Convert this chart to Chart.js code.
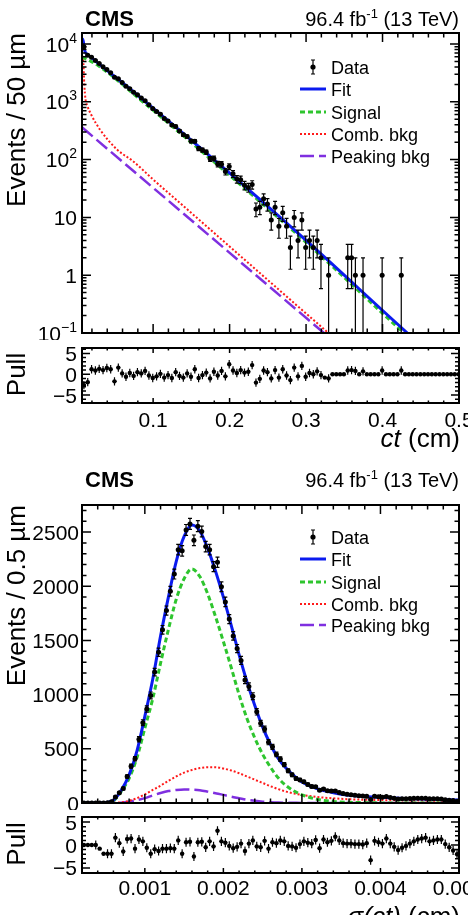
<!DOCTYPE html>
<html>
<head>
<meta charset="utf-8">
<title>ct and sigma(ct) fits</title>
<script src="https://cdn.jsdelivr.net/npm/chart.js@4.4.1/dist/chart.umd.min.js"></script>
<style>
  html, body { margin: 0; padding: 0; background: #fff; }
  body { width: 468px; height: 915px; position: relative; overflow: hidden; }
  canvas { position: absolute; left: 0; }
</style>
</head>
<body>
<canvas id="ctMain" width="468" height="340" style="top:0px"></canvas>
<canvas id="ctPull" width="468" height="115" style="top:340px"></canvas>
<canvas id="sigMain" width="468" height="355" style="top:455px"></canvas>
<canvas id="sigPull" width="468" height="105" style="top:810px"></canvas>
<script>
const FONT = '"Liberation Sans", Arial, Helvetica, sans-serif';

// ---- ct distribution: 50 um bins starting at 0.007 cm ----
const ctRange = [0.007, 0.5];
const ctBinWidth = 0.005;
const ctCounts = [
  9000, 6370, 5880, 5170, 4597, 4043, 3605, 3172, 2653, 2500,
  2152, 1866, 1683, 1461, 1321, 1158, 1044, 886, 762, 679,
  610, 516, 467, 396, 374, 313, 268, 250, 209, 208,
  156, 146, 135, 103, 105, 84, 83, 62, 76, 57,
  46, 45, 36, 33, 37, 14, 15, 21, 17, 9,
  15, 7, 12, 7, 3, 10, 4, 9, 3, 4,
  3, 4, 2, 0, 1, 0, 0, 0, 0, 2,
  2, 1, 0, 1, 0, 0, 0, 0, 1, 0,
  0, 0, 0, 1, 0, 0, 0, 0, 0, 0,
  0, 0, 0, 0, 0, 0, 0, 0, 0
];
const ctPulls = [
  -2.6, -1.9, 1.2, 0.9, 1.3, 1.0, 1.5, 1.2, -1.7, 1.6,
  0.2, -0.6, 0.3, -0.4, 0.5, 0.2, 0.8, -0.3, -0.9, -0.5,
  0.1, -0.8, -0.2, -0.9, 0.5, -0.4, -0.8, 0.2, -0.6, 1.2,
  -0.9, -0.2, 0.4, -1.0, 0.6, -0.3, 0.8, -0.5, 2.4, 0.9,
  0.3, 1.0, 0.4, 0.6, 2.2, -2.0, -1.1, 0.9, 0.5, -1.0,
  1.0, -0.8, 1.2, -0.3, -1.4, 1.6, -0.5, 2.0, -0.6, 0.3,
  0.0, 0.7, -0.2, -0.8, -1.0, 0, 0, 0, 0, 0.9,
  1.0, 0.8, 0, 0.7, 0, 0, 0, 0, 0.9, 0,
  0, 0, 0, 0.9, 0, 0, 0, 0, 0, 0,
  0, 0, 0, 0, 0, 0, 0, 0, 0
];
// fit components
const ctFitX = [0.007, 0.0087, 0.0100, 0.0115, 0.0140, 0.0197, 0.028, 0.089, 0.1675, 0.3, 0.4324, 0.5];
const ctFitY = [12600, 11100, 8200, 7170, 6590, 5760, 4680, 1030, 137, 4.0, 0.1, 0.0162];
const ctSigX = [0.007, 0.0149, 0.028, 0.089, 0.1675, 0.3, 0.428, 0.5];
const ctSigY = [6000, 5300, 4250, 940, 125, 3.7, 0.1, 0.0144];
const ctCombX = [0.007, 0.0087, 0.0100, 0.0115, 0.0140, 0.0197, 0.0305, 0.0524, 0.0741, 0.1002, 0.135, 0.3293, 0.5];
const ctCombY = [6310, 4790, 1995, 1122, 851, 575, 331, 151, 93, 45, 17.8, 0.1, 0.00112];
const ctPeakX = [0.007, 0.5];
const ctPeakY = [362, 0.00103];
const ctXTicks = [0.1, 0.2, 0.3, 0.4, 0.5];
const ctYDecades = [-1, 0, 1, 2, 3, 4];

// ---- sigma(ct) distribution: 0.5 um bins starting at 0.0002 cm ----
const sigRange = [0.0002, 0.005];
const sigBinWidth = 0.00005;
const sigCounts = [
  0, 0, 0, 1, 0, 0, 3, 12, 56, 94,
  133, 245, 340, 408, 588, 741, 867, 993, 1208, 1391,
  1598, 1776, 1954, 2113, 2338, 2327, 2520, 2575, 2424, 2555,
  2505, 2366, 2338, 2181, 2221, 1995, 1856, 1697, 1542, 1425,
  1316, 1135, 1075, 986, 841, 736, 683, 561, 518, 448,
  405, 355, 297, 260, 226, 213, 196, 171, 152, 149,
  117, 129, 114, 110, 111, 97, 87, 81, 77, 72,
  68, 64, 63, 33, 63, 58, 54, 60, 50, 43,
  37, 39, 40, 42, 43, 44, 44, 44, 39, 39,
  39, 38, 31, 26, 22, 17
];
const sigPulls = [
  0, 0, 0, 0, -0.8, -1.9, -1.9, -1.9, 1.6, 0.4,
  -1.4, 1.3, 1.4, -0.8, 1.2, 0.8, -0.6, -1.9, -0.9, -1.3,
  -0.8, -0.8, -0.7, -0.8, 1.0, -1.9, 0.6, 0.7, -2.5, 0.6,
  0.7, -0.5, 0.8, -0.3, 3.1, 0.8, 0.5, -0.2, -0.7, -0.4,
  0.3, -1.3, 0.3, 1.0, -0.3, -0.5, 0.9, -0.8, 0.6, 0.4,
  1.0, 0.8, -0.2, -0.3, -0.6, 0.2, 0.8, 0.5, 0.3, 1.1,
  -0.7, 1.2, 0.6, 0.9, 1.8, 1.0, 0.4, 0.3, 0.3, 0.2,
  0.2, 0.1, 0.4, -3.3, 0.9, 0.6, 0.3, 1.4, 0.3, -0.4,
  -1.1, -0.6, -0.2, 0.3, 0.8, 1.2, 1.4, 1.6, 0.8, 1.0,
  1.2, 1.2, 0.2, -0.5, -1.2, -2.0
];
const sigCurveX = [0.0002, 0.0003, 0.0004, 0.0005, 0.0006, 0.0007, 0.0008, 0.0009, 0.0010, 0.0011,
  0.0012, 0.0013, 0.0014, 0.0015, 0.0016, 0.0017, 0.0018, 0.0019, 0.0020, 0.0021,
  0.0022, 0.0023, 0.0024, 0.0025, 0.0026, 0.0027, 0.0028, 0.0029, 0.0030, 0.0032,
  0.0034, 0.0036, 0.0038, 0.0040, 0.0043, 0.0046, 0.0050];
const sigFitY = [0, 0, 1, 4, 25, 117, 260, 480, 800, 1140,
  1540, 1900, 2230, 2460, 2565, 2510, 2350, 2140, 1900, 1640,
  1370, 1120, 900, 700, 540, 410, 320, 250, 195, 130,
  95, 72, 60, 52, 42, 35, 27];
const sigSignalY = [0, 0, 0, 3, 20, 108, 228, 420, 690, 960,
  1290, 1600, 1880, 2070, 2160, 2090, 1930, 1720, 1490, 1250,
  1000, 780, 600, 450, 330, 230, 160, 110, 75, 33,
  14, 6, 3, 1, 0, 0, 0];
const sigCombY = [0, 0, 0, 0, 2, 6, 20, 45, 80, 120,
  160, 205, 245, 280, 305, 322, 330, 330, 318, 300,
  275, 245, 215, 185, 155, 128, 105, 88, 74, 55,
  43, 35, 30, 27, 24, 22, 20];
const sigPeakY = [0, 0, 0, 0, 0, 3, 12, 27, 45, 70,
  92, 110, 120, 125, 123, 118, 105, 90, 75, 58,
  44, 30, 20, 12, 7, 4, 3, 2, 1, 1,
  0, 0, 0, 0, 0, 0, 0];
const sigXTicks = [0.001, 0.002, 0.003, 0.004, 0.005];
const sigYTicks = [0, 500, 1000, 1500, 2000, 2500];
const pullTicks = [-5, 0, 5];

const STYLE = {
  fit:    { color: '#0b1bef', width: 3,   dash: [] },
  signal: { color: '#2ec52e', width: 3,   dash: [5, 3] },
  comb:   { color: '#ff1a1a', width: 2,   dash: [2, 2] },
  peak:   { color: '#7f2fe0', width: 2.5, dash: [14, 5] }
};

const binCentres = (lo, w, n) => Array.from({ length: n }, (_, i) => lo + (i + 0.5) * w);

function curve(label, xs, ys, st) {
  return {
    label, data: xs.map((x, i) => ({ x, y: ys[i] })),
    borderColor: st.color, borderWidth: st.width, borderDash: st.dash,
    pointRadius: 0, fill: false, cubicInterpolationMode: 'monotone', clip: 0
  };
}
function dots(label, xs, ys, r) {
  return {
    label, data: xs.map((x, i) => ({ x, y: ys[i] })),
    showLine: false, pointRadius: r, pointHoverRadius: r,
    pointBackgroundColor: '#000', pointBorderWidth: 0, borderColor: '#000'
  };
}

function multiples(lo, hi, step) {
  const out = [];
  for (let k = Math.ceil(lo / step - 1e-6); k * step <= hi * (1 + 1e-9); k++) out.push(+(k * step).toPrecision(10));
  return out;
}

function drawRich(ctx, segs, x, y, align) {
  let w = 0;
  segs.forEach(s => { ctx.font = (s.style || '') + ' ' + s.size + 'px ' + FONT; w += ctx.measureText(s.t).width; });
  let cx = align === 'right' ? x - w : align === 'center' ? x - w / 2 : x;
  ctx.textAlign = 'left';
  ctx.textBaseline = 'alphabetic';
  segs.forEach(s => {
    ctx.font = (s.style || '') + ' ' + s.size + 'px ' + FONT;
    ctx.fillText(s.t, cx, y - (s.rise || 0));
    cx += ctx.measureText(s.t).width;
  });
}

function marks(ctx, a, scale, axis, vals, len) {
  vals.forEach(v => {
    const p = scale.getPixelForValue(v);
    if (axis === 'x') {
      if (p < a.left + 1 || p > a.right - 1) return;
      ctx.moveTo(p, a.bottom); ctx.lineTo(p, a.bottom - len);
      ctx.moveTo(p, a.top); ctx.lineTo(p, a.top + len);
    } else {
      if (p < a.top + 1 || p > a.bottom - 1) return;
      ctx.moveTo(a.left, p); ctx.lineTo(a.left + len, p);
      ctx.moveTo(a.right, p); ctx.lineTo(a.right - len, p);
    }
  });
}

const minus = v => (v < 0 ? '\u2212' + Math.abs(v) : String(v));

// ROOT-like frame: inward ticks on all sides, labels, titles, header and legend
function rootStyle(cfg) {
  return {
    id: 'rootStyle',
    afterDraw(chart) {
      const { ctx, chartArea: a } = chart;
      const sx = chart.scales.x, sy = chart.scales.y;
      ctx.save();
      ctx.fillStyle = '#000';
      ctx.strokeStyle = '#000';

      ctx.lineWidth = 1.5;
      ctx.beginPath();
      marks(ctx, a, sx, 'x', multiples(sx.min, sx.max, cfg.xMinor), cfg.xLen[1]);
      marks(ctx, a, sx, 'x', cfg.xTicks, cfg.xLen[0]);
      if (cfg.yLog) {
        const minors = [];
        cfg.yTicks.forEach(k => { for (let m = 2; m <= 9; m++) minors.push(m * Math.pow(10, k)); });
        marks(ctx, a, sy, 'y', minors, cfg.yLen[1]);
        marks(ctx, a, sy, 'y', cfg.yTicks.map(k => Math.pow(10, k)), cfg.yLen[0]);
      } else {
        marks(ctx, a, sy, 'y', multiples(sy.min, sy.max, cfg.yMinor), cfg.yLen[1]);
        marks(ctx, a, sy, 'y', cfg.yTicks, cfg.yLen[0]);
      }
      ctx.stroke();

      ctx.lineWidth = 2;
      ctx.strokeRect(a.left, a.top, a.right - a.left, a.bottom - a.top);

      // y tick labels
      cfg.yTicks.forEach(v => {
        if (cfg.yLog) {
          const p = sy.getPixelForValue(Math.pow(10, v)) + 7.5;
          const segs = v === 0 ? [{ t: '1', size: 21 }] : v === 1 ? [{ t: '10', size: 21 }]
            : [{ t: '10', size: 21 }, { t: minus(v), size: 14, rise: 9 }];
          drawRich(ctx, segs, cfg.yLabelX, p, 'right');
        } else {
          drawRich(ctx, [{ t: minus(v), size: 21 }], cfg.yLabelX, sy.getPixelForValue(v) + 7.5, 'right');
        }
      });
      // x tick labels
      if (cfg.xLabelY) {
        cfg.xTicks.forEach(v => {
          drawRich(ctx, [{ t: v.toFixed(cfg.xDigits), size: 21 }], sx.getPixelForValue(v), cfg.xLabelY, 'center');
        });
      }
      if (cfg.xTitle) drawRich(ctx, cfg.xTitle, a.right + 1, cfg.xTitleY, 'right');

      // rotated y title
      ctx.save();
      const ty = cfg.yTitleTop ? a.top : (a.top + a.bottom) / 2 - 1;
      ctx.translate(25, ty);
      ctx.rotate(-Math.PI / 2);
      drawRich(ctx, [{ t: cfg.yTitle, size: 26 }], 0, 0, cfg.yTitleTop ? 'right' : 'center');
      ctx.restore();

      if (cfg.headerY) {
        drawRich(ctx, [{ t: 'CMS', size: 22, style: 'bold' }], 85, cfg.headerY, 'left');
        drawRich(ctx, [{ t: '96.4 fb', size: 20 }, { t: '-1', size: 13, rise: 8 }, { t: ' (13 TeV)', size: 20 }],
          a.right, cfg.headerY, 'right');
      }

      if (cfg.legendRows) {
        chart.data.datasets.forEach((ds, i) => {
          const y = cfg.legendRows[i];
          if (i === 0) {
            ctx.lineWidth = 1.2;
            ctx.beginPath();
            ctx.moveTo(313, y - 7); ctx.lineTo(313, y + 7);
            ctx.moveTo(311, y - 7); ctx.lineTo(315, y - 7);
            ctx.moveTo(311, y + 7); ctx.lineTo(315, y + 7);
            ctx.stroke();
            ctx.beginPath(); ctx.arc(313, y, 2.6, 0, 2 * Math.PI); ctx.fill();
          } else {
            ctx.save();
            ctx.strokeStyle = ds.borderColor; ctx.lineWidth = ds.borderWidth;
            ctx.setLineDash(ds.borderDash);
            ctx.beginPath(); ctx.moveTo(300, y); ctx.lineTo(326, y); ctx.stroke();
            ctx.restore();
          }
          drawRich(ctx, [{ t: ds.label, size: 18 }], 331, y + 6.5, 'left');
        });
      }
      ctx.restore();
    }
  };
}

// error bars (x: half bin, y: asymmetric lists) drawn under the markers
function errorBars(xs, ys, xHalf, yErr, cap) {
  return {
    id: 'errorBars',
    beforeDatasetDraw(chart, args) {
      if (args.index !== 0) return;
      const { ctx, chartArea: a } = chart;
      const sx = chart.scales.x, sy = chart.scales.y;
      const isLog = sy.type === 'logarithmic';
      ctx.save();
      ctx.beginPath();
      ctx.rect(a.left, a.top, a.right - a.left, a.bottom - a.top);
      ctx.clip();
      ctx.strokeStyle = '#000';
      ctx.lineWidth = 1.2;
      ctx.beginPath();
      xs.forEach((x, i) => {
        const y = ys[i];
        if (y === null) return;
        const px = sx.getPixelForValue(x), py = sy.getPixelForValue(y);
        ctx.moveTo(sx.getPixelForValue(x - xHalf), py);
        ctx.lineTo(sx.getPixelForValue(x + xHalf), py);
        const e = yErr[i];
        if (e > 0) {
          const lo = y - e;
          const pLo = (isLog && lo <= 0) ? a.bottom + 5 : sy.getPixelForValue(lo);
          const pHi = sy.getPixelForValue(y + e);
          ctx.moveTo(px, pLo); ctx.lineTo(px, pHi);
          if (cap) {
            ctx.moveTo(px - cap, pHi); ctx.lineTo(px + cap, pHi);
            if (!(isLog && lo <= 0)) { ctx.moveTo(px - cap, pLo); ctx.lineTo(px + cap, pLo); }
          }
        }
      });
      ctx.stroke();
      ctx.restore();
    }
  };
}

function makeChart(id, datasets, xr, yScale, padding, plugins) {
  return new Chart(document.getElementById(id), {
    type: 'line',
    data: { datasets },
    options: {
      responsive: false, animation: false, devicePixelRatio: 1, events: [],
      layout: { padding },
      scales: {
        x: { type: 'linear', min: xr[0], max: xr[1], display: false },
        y: Object.assign({ display: false }, yScale)
      },
      plugins: { legend: { display: false }, tooltip: { enabled: false } }
    },
    plugins
  });
}

// ---- top: ct ----
const ctX = binCentres(ctRange[0], ctBinWidth, ctCounts.length);
const ctY = ctCounts.map(v => (v > 0 ? v : null));
makeChart('ctMain', [
  dots('Data', ctX, ctY, 2.5),
  curve('Fit', ctFitX, ctFitY, STYLE.fit),
  curve('Signal', ctSigX, ctSigY, STYLE.signal),
  curve('Comb. bkg', ctCombX, ctCombY, STYLE.comb),
  curve('Peaking bkg', ctPeakX, ctPeakY, STYLE.peak)
], ctRange, { type: 'logarithmic', min: 0.1, max: 15500 },
  { left: 82, right: 9, top: 33, bottom: 7 },
  [errorBars(ctX, ctY, ctBinWidth / 2, ctCounts.map(Math.sqrt), 2),
   rootStyle({ xTicks: ctXTicks, xMinor: 0.02, xLen: [9, 4.5], yLog: true, yTicks: ctYDecades, yLen: [9, 4.5],
     yLabelX: 77, yTitle: 'Events / 50 \u00b5m', yTitleTop: true, headerY: 26,
     legendRows: [67, 89, 112, 134, 156] })]);

makeChart('ctPull', [dots('Pull', ctX, ctPulls, 2.2)], ctRange, { type: 'linear', min: -6.9, max: 6.3 },
  { left: 82, right: 9, top: 8, bottom: 52 },
  [errorBars(ctX, ctPulls, ctBinWidth / 2, ctCounts.map(v => (v > 0 ? 1 : 0)), 0),
   rootStyle({ xTicks: ctXTicks, xMinor: 0.02, xLen: [5, 2.5], xLabelY: 87, xDigits: 1,
     xTitle: [{ t: 'ct', size: 26, style: 'italic' }, { t: ' (cm)', size: 26 }], xTitleY: 107,
     yTicks: pullTicks, yMinor: 1, yLen: [8, 4], yLabelX: 77, yTitle: 'Pull' })]);

// ---- bottom: sigma(ct) ----
const sigX = binCentres(sigRange[0], sigBinWidth, sigCounts.length);
makeChart('sigMain', [
  dots('Data', sigX, sigCounts, 2.5),
  curve('Fit', sigCurveX, sigFitY, STYLE.fit),
  curve('Signal', sigCurveX, sigSignalY, STYLE.signal),
  curve('Comb. bkg', sigCurveX, sigCombY, STYLE.comb),
  curve('Peaking bkg', sigCurveX, sigPeakY, STYLE.peak)
], sigRange, { type: 'linear', min: 0, max: 2750 },
  { left: 82, right: 9, top: 50, bottom: 7 },
  [errorBars(sigX, sigCounts, sigBinWidth / 2, sigCounts.map(Math.sqrt), 2),
   rootStyle({ xTicks: sigXTicks, xMinor: 0.0002, xLen: [9, 4.5], yTicks: sigYTicks, yMinor: 100, yLen: [9, 4.5],
     yLabelX: 79, yTitle: 'Events / 0.5 \u00b5m', yTitleTop: true, headerY: 32,
     legendRows: [82, 104, 127, 149, 170] })]);

makeChart('sigPull', [dots('Pull', sigX, sigPulls, 2.2)], sigRange, { type: 'linear', min: -6.1, max: 6.1 },
  { left: 82, right: 9, top: 7, bottom: 42 },
  [errorBars(sigX, sigPulls, sigBinWidth / 2, sigCounts.map(v => (v > 0 ? 1 : 0)), 0),
   rootStyle({ xTicks: sigXTicks, xMinor: 0.0002, xLen: [5, 2.5], xLabelY: 85, xDigits: 3,
     xTitle: [{ t: '\u03c3(ct)', size: 26, style: 'italic' }, { t: ' (cm)', size: 26 }], xTitleY: 115,
     yTicks: pullTicks, yMinor: 1, yLen: [8, 4], yLabelX: 77, yTitle: 'Pull' })]);
</script>
</body>
</html>
